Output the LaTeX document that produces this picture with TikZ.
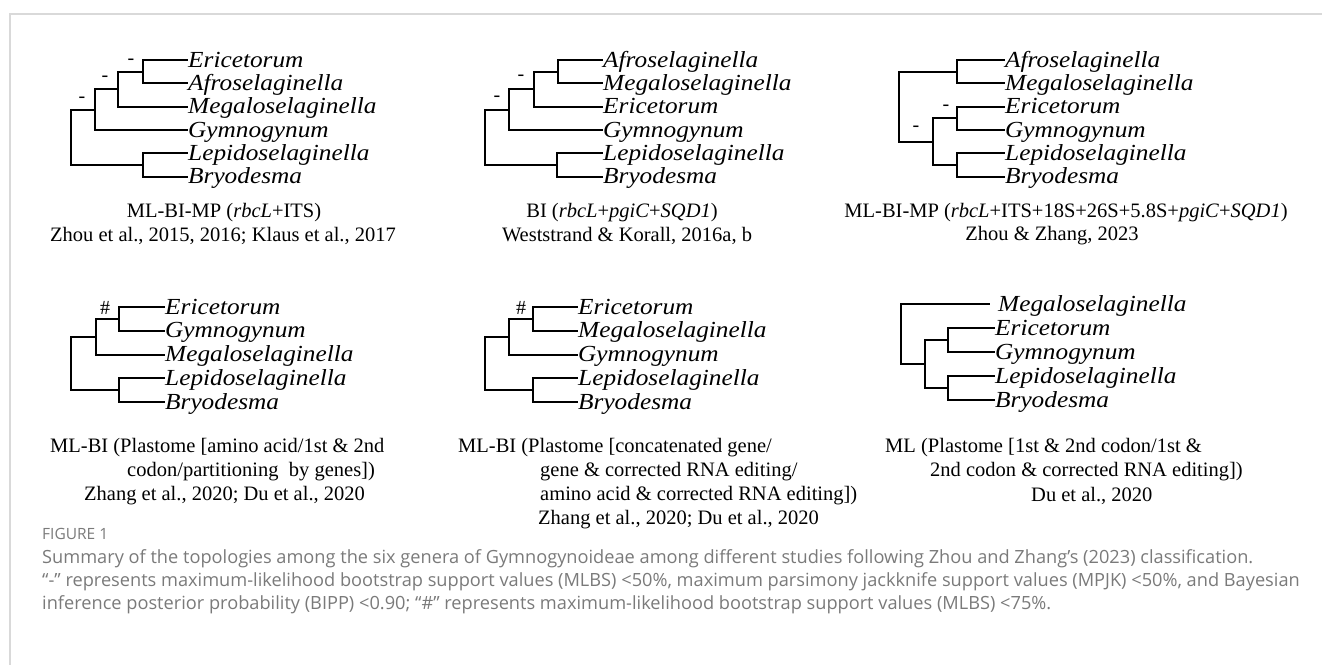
\documentclass[tikz,border=0pt]{standalone}
\usepackage{fontspec}
\setmainfont{Liberation Serif}
\newfontfamily\taxfont{Liberation Serif}[FakeStretch=1.1]
\newfontfamily\capfont{Open Sans}
\usepackage{xcolor}
\usepackage{tikz}
\usetikzlibrary{positioning}
\definecolor{framegray}{HTML}{D9D9D9}
\definecolor{capgray}{HTML}{7A7A7A}
\tikzset{
  taxon/.style={anchor=west, inner sep=0pt, text height=14.5pt, text depth=0pt,
    font=\taxfont\itshape\fontsize{23}{26}\selectfont},
  branch/.style={line width=2pt},
  bslab/.style={inner sep=0pt, font=\fontsize{20}{22}\selectfont},
  ref/.style={inner sep=0pt, font=\fontsize{20.5}{24}\selectfont},
  capline/.style={anchor=west, inner sep=0pt, text=capgray, font=\capfont\fontsize{18.2}{21}\selectfont}
}

\begin{document}
\begin{tikzpicture}[x=1pt, y=-1pt]
\useasboundingbox (0,0) rectangle (1322,665);
\draw[framegray, line width=2pt] (1322,14) -- (10,14) -- (10,665);

% tree 1
\node[taxon] (eric1) at (188,60)    {Ericetorum};
\node[taxon] (afro1) at (188,83.3)  {Afroselaginella};
\node[taxon] (mega1) at (188,106.7) {Megaloselaginella};
\node[taxon] (gymn1) at (188,130)   {Gymnogynum};
\node[taxon] (lepi1) at (188,153.3) {Lepidoselaginella};
\node[taxon] (bryo1) at (188,176.7) {Bryodesma};
\coordinate (ea1) at (143,71.7);
\coordinate (eam1) at (118,89.2);
\coordinate (eamg1) at (95,109.6);
\coordinate (lb1) at (143,165);
\coordinate (root1) at (71,137.3);
\draw[branch] (ea1) |- (eric1.west);
\draw[branch] (ea1) |- (afro1.west);
\draw[branch] (eam1) |- (ea1);
\draw[branch] (eam1) |- (mega1.west);
\draw[branch] (eamg1) |- (eam1);
\draw[branch] (eamg1) |- (gymn1.west);
\draw[branch] (lb1) |- (lepi1.west);
\draw[branch] (lb1) |- (bryo1.west);
\draw[branch] (root1) |- (eamg1);
\draw[branch] (root1) |- (lb1);
\node[bslab] (s1a) at (131,62)  {-};
\node[bslab] (s1b) at (105,79)  {-};
\node[bslab] (s1c) at (82,100)  {-};
\node[ref] (m1) at (224,213) {ML-BI-MP (\textit{rbcL}+ITS)};
\node[ref] (c1) at (223,236) {Zhou et al., 2015, 2016; Klaus et al., 2017};

% tree 2
\node[taxon] (afro2) at (603,60)    {Afroselaginella};
\node[taxon] (mega2) at (603,83.3)  {Megaloselaginella};
\node[taxon] (eric2) at (603,106.7) {Ericetorum};
\node[taxon] (gymn2) at (603,130)   {Gymnogynum};
\node[taxon] (lepi2) at (603,153.3) {Lepidoselaginella};
\node[taxon] (bryo2) at (603,176.7) {Bryodesma};
\coordinate (am2) at (558,71.7);
\coordinate (ame2) at (534,89.2);
\coordinate (ameg2) at (509,109.6);
\coordinate (lb2) at (557,165);
\coordinate (root2) at (485,137.3);
\draw[branch] (am2) |- (afro2.west);
\draw[branch] (am2) |- (mega2.west);
\draw[branch] (ame2) |- (am2);
\draw[branch] (ame2) |- (eric2.west);
\draw[branch] (ameg2) |- (ame2);
\draw[branch] (ameg2) |- (gymn2.west);
\draw[branch] (lb2) |- (lepi2.west);
\draw[branch] (lb2) |- (bryo2.west);
\draw[branch] (root2) |- (ameg2);
\draw[branch] (root2) |- (lb2);
\node[bslab] (s2a) at (521,78) {-};
\node[bslab] (s2b) at (497,99) {-};
\node[ref] (m2) at (622,213) {BI (\textit{rbcL}+\textit{pgiC}+\textit{SQD1})};
\node[ref] (c2) at (627,236) {Weststrand \& Korall, 2016a, b};

% tree 3
\node[taxon] (afro3) at (1005,60)    {Afroselaginella};
\node[taxon] (mega3) at (1005,83.3)  {Megaloselaginella};
\node[taxon] (eric3) at (1005,106.7) {Ericetorum};
\node[taxon] (gymn3) at (1005,130)   {Gymnogynum};
\node[taxon] (lepi3) at (1005,153.3) {Lepidoselaginella};
\node[taxon] (bryo3) at (1005,176.7) {Bryodesma};
\coordinate (am3) at (957,71.7);
\coordinate (eg3) at (957,118.3);
\coordinate (lb3) at (957,165);
\coordinate (eglb3) at (933,141.7);
\coordinate (root3) at (899,106.7);
\draw[branch] (am3) |- (afro3.west);
\draw[branch] (am3) |- (mega3.west);
\draw[branch] (eg3) |- (eric3.west);
\draw[branch] (eg3) |- (gymn3.west);
\draw[branch] (lb3) |- (lepi3.west);
\draw[branch] (lb3) |- (bryo3.west);
\draw[branch] (eglb3) |- (eg3);
\draw[branch] (eglb3) |- (lb3);
\draw[branch] (root3) |- (am3);
\draw[branch] (root3) |- (eglb3);
\node[bslab] (s3a) at (946,108) {-};
\node[bslab] (s3b) at (916,129) {-};
\node[ref] (m3) at (1066,213) {ML-BI-MP (\textit{rbcL}+ITS+18S+26S+5.8S+\textit{pgiC}+\textit{SQD1})};
\node[ref] (c3) at (1052,236) {Zhou \& Zhang, 2023};

% tree 4
\node[taxon] (eric4) at (165,307)   {Ericetorum};
\node[taxon] (gymn4) at (165,330.7) {Gymnogynum};
\node[taxon] (mega4) at (165,354.5) {Megaloselaginella};
\node[taxon] (lepi4) at (165,378.2) {Lepidoselaginella};
\node[taxon] (bryo4) at (165,402)   {Bryodesma};
\coordinate (eg4) at (119,318.9);
\coordinate (egm4) at (96,336.7);
\coordinate (lb4) at (119,390.1);
\coordinate (root4) at (71,363.4);
\draw[branch] (eg4) |- (eric4.west);
\draw[branch] (eg4) |- (gymn4.west);
\draw[branch] (egm4) |- (eg4);
\draw[branch] (egm4) |- (mega4.west);
\draw[branch] (lb4) |- (lepi4.west);
\draw[branch] (lb4) |- (bryo4.west);
\draw[branch] (root4) |- (egm4);
\draw[branch] (root4) |- (lb4);
\node[bslab] (s4a) at (105,308) {\#};
\node[ref, anchor=west] (m4a) at (50,448)  {ML-BI (Plastome [amino acid/1st \& 2nd};
\node[ref, anchor=west] (m4b) at (127,472) {codon/partitioning\ \ by genes])};
\node[ref, anchor=west] (c4)  at (84,496)  {Zhang et al., 2020; Du et al., 2020};

% tree 5
\node[taxon] (eric5) at (578,307)   {Ericetorum};
\node[taxon] (mega5) at (578,330.7) {Megaloselaginella};
\node[taxon] (gymn5) at (578,354.5) {Gymnogynum};
\node[taxon] (lepi5) at (578,378.2) {Lepidoselaginella};
\node[taxon] (bryo5) at (578,402)   {Bryodesma};
\coordinate (em5) at (533,318.9);
\coordinate (emg5) at (509,336.7);
\coordinate (lb5) at (533,390.1);
\coordinate (root5) at (485,363.4);
\draw[branch] (em5) |- (eric5.west);
\draw[branch] (em5) |- (mega5.west);
\draw[branch] (emg5) |- (em5);
\draw[branch] (emg5) |- (gymn5.west);
\draw[branch] (lb5) |- (lepi5.west);
\draw[branch] (lb5) |- (bryo5.west);
\draw[branch] (root5) |- (emg5);
\draw[branch] (root5) |- (lb5);
\node[bslab] (s5a) at (521,308) {\#};
\node[ref, anchor=west] (m5a) at (458,448) {ML-BI (Plastome [concatenated gene/};
\node[ref, anchor=west] (m5b) at (540,472) {gene \& corrected RNA editing/};
\node[ref, anchor=west] (m5c) at (540,496) {amino acid \& corrected RNA editing])};
\node[ref, anchor=west] (c5)  at (538,520) {Zhang et al., 2020; Du et al., 2020};

% tree 6
\node[taxon] (mega6) at (998,304) {Megaloselaginella};
\node[taxon] (eric6) at (995,328) {Ericetorum};
\node[taxon] (gymn6) at (995,352) {Gymnogynum};
\node[taxon] (lepi6) at (995,376) {Lepidoselaginella};
\node[taxon] (bryo6) at (995,400) {Bryodesma};
\coordinate (eg6) at (948,340);
\coordinate (lb6) at (948,388);
\coordinate (eglb6) at (925,364);
\coordinate (root6) at (901,334);
\draw[branch] (eg6) |- (eric6.west);
\draw[branch] (eg6) |- (gymn6.west);
\draw[branch] (lb6) |- (lepi6.west);
\draw[branch] (lb6) |- (bryo6.west);
\draw[branch] (eglb6) |- (eg6);
\draw[branch] (eglb6) |- (lb6);
\draw[branch] (root6) |- ([xshift=-8pt]mega6.west);
\draw[branch] (root6) |- (eglb6);
\node[ref, anchor=west] (m6a) at (885,448)  {ML (Plastome [1st \& 2nd codon/1st \&};
\node[ref, anchor=west] (m6b) at (930,472)  {2nd codon \& corrected RNA editing])};
\node[ref, anchor=west] (c6)  at (1031,496) {Du et al., 2020};

% caption
\node[capline, font=\capfont\fontsize{15.5}{18}\selectfont] (fig) at (42,534) {FIGURE 1};
\node[capline] (cap1) at (42,559) {Summary of the topologies among the six genera of Gymnogynoideae among different studies following Zhou and Zhang’s (2023) classification.};
\node[capline] (cap2) at (42,582) {“-” represents maximum-likelihood bootstrap support values (MLBS) <50\%, maximum parsimony jackknife support values (MPJK) <50\%, and Bayesian};
\node[capline] (cap3) at (42,605) {inference posterior probability (BIPP) <0.90; “\#” represents maximum-likelihood bootstrap support values (MLBS) <75\%.};
\end{tikzpicture}
\end{document}
